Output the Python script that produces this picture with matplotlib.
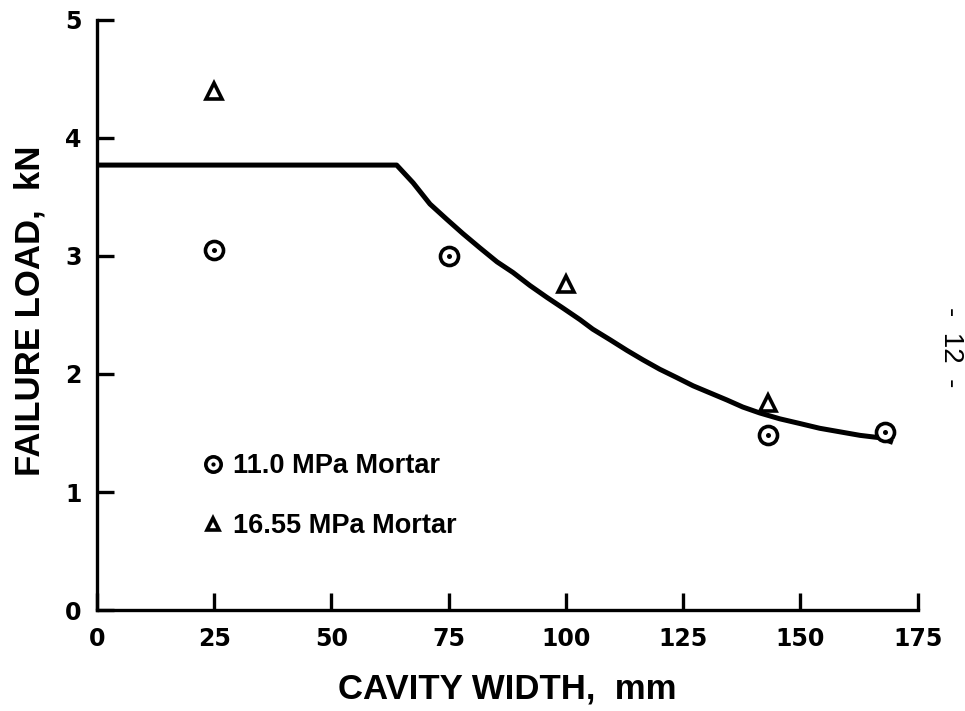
import matplotlib
matplotlib.use("Agg")
import matplotlib.pyplot as plt
from matplotlib.legend_handler import HandlerTuple

# Data
mortar11_x = [25, 75, 143, 168]
mortar11_y = [3.05, 3.00, 1.48, 1.51]
mortar1655_x = [25, 100, 143]
mortar1655_y = [4.40, 2.76, 1.75]
curve_x = [0, 63.9, 67.4, 71.0, 74.6, 78.0, 81.6, 85.3, 88.7, 92.3, 95.9, 99.3, 103.0,
           105.7, 109.4, 113.0, 116.4, 120.0, 123.6, 127.1, 130.7, 134.3, 137.7, 141.3,
           145.6, 149.9, 154.1, 158.4, 162.7, 166.9, 169.7]
curve_y = [3.77, 3.77, 3.62, 3.44, 3.31, 3.19, 3.07, 2.95, 2.86, 2.75, 2.65, 2.56, 2.46,
           2.38, 2.29, 2.20, 2.12, 2.04, 1.97, 1.90, 1.84, 1.78, 1.72, 1.67,
           1.62, 1.58, 1.54, 1.51, 1.48, 1.46, 1.42]
xticks = [0, 25, 50, 75, 100, 125, 150, 175]
yticks = [0, 1, 2, 3, 4, 5]
legend_labels = ['11.0 MPa Mortar', '16.55 MPa Mortar']

plt.rcParams['font.family'] = ['Liberation Sans', 'DejaVu Sans']

fig = plt.figure(figsize=(9.65, 7.11), dpi=100)
ax = fig.add_axes([0.1005, 0.142, 0.8505, 0.830])

ax.plot(curve_x, curve_y, color='black', lw=3.6, solid_capstyle='butt',
        solid_joinstyle='round', zorder=2)

c1 = ax.plot(mortar11_x, mortar11_y, linestyle='none', marker='o', ms=13, mfc='white',
             mec='black', mew=2.6, zorder=3)[0]
c2 = ax.plot(mortar11_x, mortar11_y, linestyle='none', marker='o', ms=3.6, mfc='black',
             mec='black', mew=0, zorder=4)[0]
t1 = ax.plot(mortar1655_x, mortar1655_y, linestyle='none', marker='^', ms=11, mfc='white',
             mec='black', mew=2.6, zorder=3)[0]

ax.set_xlim(0, 175)
ax.set_ylim(0, 5)
ax.set_xticks(xticks)
ax.set_yticks(yticks)
for s in ['top', 'right']:
    ax.spines[s].set_visible(False)
for s in ['left', 'bottom']:
    ax.spines[s].set_linewidth(2.4)
ax.tick_params(direction='in', length=12, width=2.4)
ax.tick_params(axis='x', pad=12)
ax.tick_params(axis='y', pad=11)
for lab in ax.get_xticklabels() + ax.get_yticklabels():
    lab.set_fontfamily('DejaVu Sans')
    lab.set_fontweight('bold')
    lab.set_fontsize(17)

ax.set_xlabel('CAVITY WIDTH,  mm', fontsize=25, fontweight='bold', labelpad=16)
ax.set_ylabel('FAILURE LOAD,  kN', fontsize=25, fontweight='bold', labelpad=12)
ax.yaxis.set_label_coords(-0.062, 0.508)

leg = ax.legend([(c1, c2), t1], legend_labels,
                handler_map={tuple: HandlerTuple(ndivide=1)},
                loc='center left', bbox_to_anchor=(0.098, 0.193), frameon=False,
                prop={'weight': 'bold', 'size': 19.5}, handlelength=0.8,
                handletextpad=0.35, labelspacing=1.25, markerscale=0.85)

fig.text(0.9855, 0.512, '-  12  -', rotation=270, fontsize=20, ha='center', va='center')

fig.savefig('out.png', dpi=100)
